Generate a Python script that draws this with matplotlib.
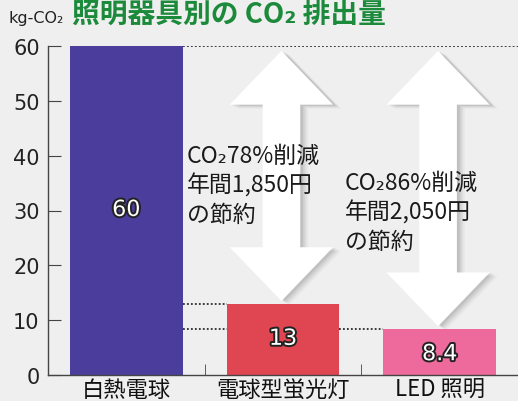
import matplotlib
matplotlib.use("Agg")
import matplotlib.pyplot as plt
import matplotlib.patheffects as pe
from matplotlib.patches import Polygon
import numpy as np

plt.rcParams['font.family'] = ['Noto Sans CJK JP', 'DejaVu Sans']

# data
categories = ["白熱電球", "電球型蛍光灯", "LED 照明"]
values = [60, 13, 8.4]
value_labels = ["60", "13", "8.4"]
bar_colors = ["#4a3d9c", "#e04652", "#ee6a9c"]
notes = ["CO₂78%削減\n年間1,850円\nの節約",
         "CO₂86%削減\n年間2,050円\nの節約"]
yticks = [0, 10, 20, 30, 40, 50, 60]

bg = "#efefef"
fig = plt.figure(figsize=(5.18, 4.02), dpi=100, facecolor=bg)
ax = fig.add_axes([48 / 518, 26 / 402, 470 / 518, 329 / 402], facecolor=bg)

x = np.arange(len(categories))
bw = 0.72
ax.bar(x, values, width=bw, color=bar_colors, zorder=2)

# dotted guide lines from the top of each bar
dots = dict(ls=(0, (1, 1.2)), color="#2a2a2a", lw=1.3, zorder=1)
ax.plot([x[0] + bw / 2, 2.5], [values[0]] * 2, **dots)
ax.plot([x[0] + bw / 2, x[1] - bw / 2], [values[1]] * 2, **dots)
ax.plot([x[0] + bw / 2, x[1] - bw / 2], [values[2]] * 2, **dots)
ax.plot([x[1] + bw / 2, x[2] - bw / 2], [values[2]] * 2, **dots)


def double_arrow(cx, top, bot, hw=0.33, sw=0.12, hl=9.8):
    return [(cx, top), (cx + hw, top - hl), (cx + sw, top - hl),
            (cx + sw, bot + hl), (cx + hw, bot + hl), (cx, bot),
            (cx - hw, bot + hl), (cx - sw, bot + hl), (cx - sw, top - hl),
            (cx - hw, top - hl)]


# big white reduction arrows with a soft shadow
for i in (1, 2):
    top = values[0] - 0.9
    bot = values[i] + 0.5
    cx = x[i] - 0.01
    for k, a in enumerate([0.05, 0.07, 0.09, 0.12]):
        off = 0.05 - k * 0.011
        pts = [(px + off, py - 0.7 + k * 0.17) for px, py in double_arrow(cx, top, bot)]
        ax.add_patch(Polygon(pts, closed=True, facecolor="#555555", edgecolor="none",
                             alpha=a, zorder=3))
    ax.add_patch(Polygon(double_arrow(cx, top, bot), closed=True, facecolor="white",
                         edgecolor="none", zorder=4))

# bar value labels (white with dark outline)
label_y = [30.1, 6.6, 3.8]
for i, lab in enumerate(value_labels):
    ax.text(x[i], label_y[i], lab, ha="center", va="center", fontsize=16,
            color="white", family="DejaVu Sans", zorder=6,
            path_effects=[pe.withStroke(linewidth=2.8, foreground="#222222")])

# annotation text
ax.text(0.388, 42.2, notes[0], ha="left", va="top", fontsize=16.5,
        color="#1a1a1a", linespacing=1.32, zorder=6)
ax.text(1.395, 37.3, notes[1], ha="left", va="top", fontsize=16.5,
        color="#1a1a1a", linespacing=1.32, zorder=6)

ax.set_xlim(-0.5, 2.5)
ax.set_ylim(0, 60)
ax.set_yticks(yticks)
ax.set_yticklabels([str(t) for t in yticks], fontsize=15, color="#222222",
                   family="DejaVu Sans")
ax.set_xticks(x)
ax.set_xticklabels(categories, fontsize=16, color="#111111")
ax.set_xticks([0.5, 1.5], minor=True)
ax.tick_params(axis="x", which="major", length=0, pad=2)
ax.tick_params(axis="x", which="minor", direction="in", length=8, color="#444444")
ax.tick_params(axis="y", direction="in", length=9, color="#444444", pad=6)
for s in ("top", "right"):
    ax.spines[s].set_visible(False)
for s in ("left", "bottom"):
    ax.spines[s].set_color("#444444")
    ax.spines[s].set_linewidth(1.0)

fig.text(8 / 518, 1 - 19 / 402, "kg-CO₂", fontsize=11.5, color="#222222",
         family="DejaVu Sans", va="center", ha="left")
fig.text(72 / 518, 0.998, "照明器具別の CO₂ 排出量", fontsize=20,
         fontweight="bold", color="#1b8a3a", va="top", ha="left")

fig.savefig("out.png", dpi=100, facecolor=bg)
